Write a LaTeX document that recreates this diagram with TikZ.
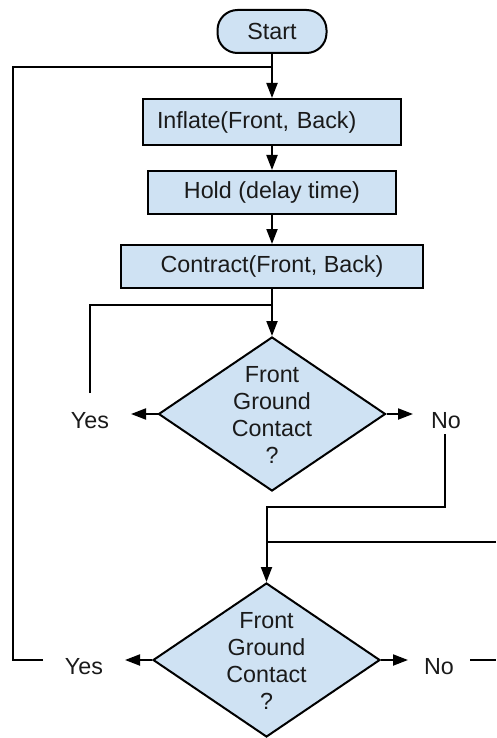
\documentclass[tikz,border=0pt]{standalone}
\usepackage{fontspec}
\setmainfont{Liberation Sans}
\usetikzlibrary{shapes.geometric,arrows.meta}
\definecolor{boxblue}{HTML}{CFE2F3}
\definecolor{inkc}{HTML}{1A1A1A}
\begin{document}
\begin{tikzpicture}[x=1pt,y=-1pt,
  every node/.style={font=\fontsize{23.3}{27}\selectfont, text=inkc},
  box/.style={draw=black, line width=2pt, fill=boxblue, inner sep=0pt},
  dia/.style={diamond, draw=black, line width=2pt, fill=boxblue, inner sep=0pt, minimum width=227pt, minimum height=154pt},
  dtext/.style={align=center, inner sep=0pt},
  lbl/.style={inner sep=0pt},
  conn/.style={draw=black, line width=2pt},
  arr/.style={conn, -{Triangle[length=15pt,width=11pt]}}]
\useasboundingbox (0,0) rectangle (496,738);

% process boxes
\node[box, rounded corners=20pt, minimum width=109pt, minimum height=43pt] (start) at (272,31.5) {Start};
\node[box, text width=230pt, inner xsep=14pt, align=left, minimum height=46pt] (inflate) at (272,122) {Inflate(Front, Back)};
\node[box, minimum width=248pt, minimum height=43pt] (hold) at (272,192.5) {Hold (delay time)};
\node[box, minimum width=302pt, minimum height=43pt] (contract) at (272,266.5) {Contract(Front, Back)};

% decisions
\node[dia] (d1) at (272,414) {};
\node[dtext] (d1t) at (272,415) {Front\\Ground\\Contact\\?};
\node[dia] (d2) at (266.5,660) {};
\node[dtext] (d2t) at (266.5,661) {Front\\Ground\\Contact\\?};

% labels
\node[lbl] (yes1) at (90,421) {Yes};
\node[lbl] (no1) at (446,421) {No};
\node[lbl] (yes2) at (84,667) {Yes};
\node[lbl] (no2) at (439,667) {No};

% helper coordinates
\coordinate (j1) at (272,67);
\coordinate (c1) at (13,67);
\coordinate (j2) at (272,305);
\coordinate (y1a) at (90,393);
\coordinate (y1tip) at (131,414);
\coordinate (n1tip) at (413,414);
\coordinate (n1a) at (445,434);
\coordinate (j3) at (266.5,507);
\coordinate (rin) at (496,542);
\coordinate (j4) at (266.5,542);
\coordinate (y2tip) at (125,660);
\coordinate (y2a) at (43,660);
\coordinate (n2tip) at (408,660);
\coordinate (n2a) at (470,660);
\coordinate (rout) at (496,660);

% main flow
\draw[arr] (start.south) -- (inflate.north);
\draw[arr] (inflate.south) -- (hold.north);
\draw[arr] (hold.south) -- (contract.north);
\draw[arr] (contract.south) -- (d1.north);

% decision 1 branches
\draw[arr] (d1.west) -- (y1tip);
\draw[arr] (d1.east) -- (n1tip);
\draw[conn] (y1a) |- (j2);
\draw[arr] (n1a) |- (j3) -- (d2.north);
\draw[conn] (rin) -- (j4);

% decision 2 branches
\draw[arr] (d2.west) -- (y2tip);
\draw[arr] (d2.east) -- (n2tip);
\draw[conn] (y2a) -| (c1) -- (j1);
\draw[conn] (n2a) -- (rout);
\end{tikzpicture}
\end{document}
